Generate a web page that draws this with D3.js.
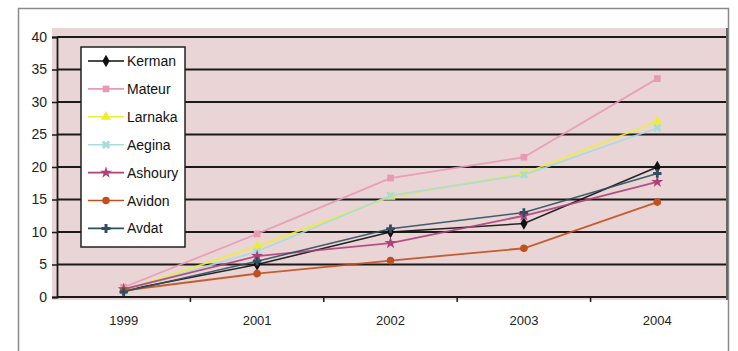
<!DOCTYPE html>
<html><head><meta charset="utf-8">
<script src="https://cdn.jsdelivr.net/npm/d3@7"></script>
<style>body{margin:0;background:#fff}svg{display:block}text{font-family:"Liberation Sans",Arial,sans-serif}</style>
</head><body><svg id="c" width="738" height="351"></svg>
<script>
const years = ["1999","2001","2002","2003","2004"];
const seriesNames = ["Kerman","Mateur","Larnaka","Aegina","Ashoury","Avidon","Avdat"];
const kerman  = [1.0, 5.0, 10.0, 11.3, 20.0];
const mateur  = [1.5, 9.7, 18.3, 21.5, 33.6];
const larnaka = [1.0, 7.8, 15.4, 19.0, 27.0];
const aegina  = [1.0, 7.0, 15.6, 18.8, 26.0];
const ashoury = [1.2, 6.3, 8.3, 12.5, 17.7];
const avidon  = [1.0, 3.6, 5.6, 7.5, 14.6];
const avdat   = [0.8, 5.5, 10.5, 13.0, 19.0];
const yTicks = [0,5,10,15,20,25,30,35,40];
const values = [kerman, mateur, larnaka, aegina, ashoury, avidon, avdat];
const colors = ["#111111","#e89ab4","#eeee30","#a8dcdc","#b0407a","#c0501e","#2e5060"];
const symbols = [d3.symbolDiamond, d3.symbolSquare, d3.symbolTriangle, d3.symbolCross, d3.symbolStar, d3.symbolCircle, d3.symbolCross];

const svg = d3.select("#c");
svg.append("rect").attr("x",18.5).attr("y",8.5).attr("width",710).attr("height",360)
  .attr("fill","#fff").attr("stroke","#8a8a8a").attr("stroke-width",1.5);
const L=57, R=724, T=37, B=297;
svg.append("rect").attr("x",52).attr("y",28).attr("width",675).attr("height",272).attr("fill","#e9d5d5");
svg.append("line").attr("x1",727).attr("x2",727).attr("y1",28).attr("y2",300).attr("stroke","#666").attr("stroke-width",2);

const x = d3.scaleBand().domain(years).range([L,R]);
const y = d3.scaleLinear().domain([0,40]).range([B,T]);

svg.append("g").selectAll("line").data(yTicks.filter(d=>d>0)).join("line")
  .attr("x1",L).attr("x2",R+2).attr("y1",d=>y(d)).attr("y2",d=>y(d))
  .attr("stroke","#1a1a1a").attr("stroke-width",1.8);

const ya = svg.append("g").attr("transform",`translate(${L},0)`)
  .call(d3.axisLeft(y).tickValues(yTicks).tickSize(5).tickPadding(5));
ya.select(".domain").attr("stroke","#1a1a1a").attr("stroke-width",1.8);
ya.selectAll("line").attr("stroke","#1a1a1a").attr("stroke-width",1.5);
ya.selectAll("text").attr("font-size",14).attr("fill","#222");

const xa = svg.append("g").attr("transform",`translate(0,${B})`)
  .call(d3.axisBottom(x).tickSize(0).tickPadding(19));
xa.select(".domain").attr("stroke","#1a1a1a").attr("stroke-width",1.8).attr("d",`M${L},0H${R+2}`);
xa.selectAll("text").attr("font-size",13).attr("fill","#222");
svg.append("g").selectAll("line").data(years.slice(1)).join("line")
  .attr("x1",d=>x(d)).attr("x2",d=>x(d)).attr("y1",B).attr("y2",B+5)
  .attr("stroke","#1a1a1a").attr("stroke-width",1.5);

const cx = d=>x(d)+x.bandwidth()/2;
const line = d3.line().x((d,i)=>cx(years[i])).y(d=>y(d));

values.forEach((vals,si)=>{
  svg.append("path").datum(vals).attr("d",line).attr("fill","none")
    .attr("stroke",colors[si]).attr("stroke-width",si===0||si===6?1.6:1.8).attr("opacity",0.9);
});
values.forEach((vals,si)=>{
  const sym = d3.symbol().type(symbols[si]).size(si===6?40:45);
  svg.append("g").selectAll("path").data(vals).join("path")
    .attr("transform",(d,i)=>`translate(${cx(years[i])},${y(d)})${si===3?" rotate(45)":""}`)
    .attr("d",sym).attr("fill",colors[si]);
});

const lg = svg.append("g");
lg.append("rect").attr("x",81).attr("y",47).attr("width",104).attr("height",200)
  .attr("fill","#fff").attr("stroke","#222").attr("stroke-width",1.5);
seriesNames.forEach((n,i)=>{
  const yy = 61 + i*27.9;
  lg.append("line").attr("x1",88).attr("x2",124).attr("y1",yy).attr("y2",yy)
    .attr("stroke",colors[i]).attr("stroke-width",1.6);
  lg.append("path").attr("transform",`translate(106,${yy})${i===3?" rotate(45)":""}`)
    .attr("d",d3.symbol().type(symbols[i]).size(45)).attr("fill",colors[i]);
  lg.append("text").attr("x",127).attr("y",yy+5).attr("font-size",14).attr("fill","#111").text(n);
});
</script></body></html>
